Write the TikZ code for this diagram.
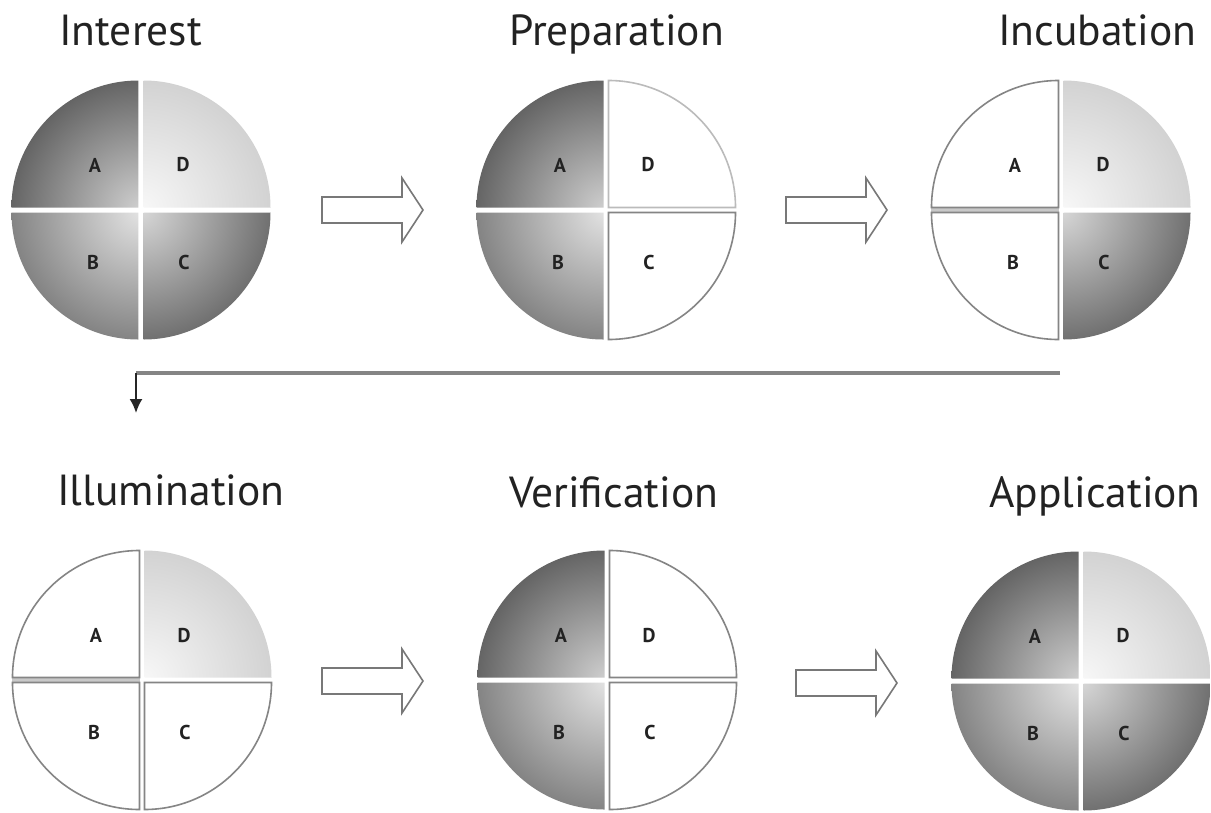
\documentclass[tikz,border=0pt]{standalone}
\usepackage{fontspec}
\setmainfont{PT Sans}
\usetikzlibrary{arrows.meta}
\definecolor{txt}{HTML}{222222}
\definecolor{edge}{HTML}{858585}
\definecolor{faint}{HTML}{BBBBBB}
\definecolor{band}{HTML}{C8C8C8}
\definecolor{aIn}{HTML}{D0D0D0}\definecolor{aOut}{HTML}{646464}
\definecolor{bIn}{HTML}{E4E4E4}\definecolor{bOut}{HTML}{838383}
\definecolor{cIn}{HTML}{D8D8D8}\definecolor{cOut}{HTML}{6F6F6F}
\definecolor{dIn}{HTML}{F8F8F8}\definecolor{dOut}{HTML}{D2D2D2}
\def\R{127}
% #1 start angle (screen, y down), #2 inner colour, #3 outer colour
\newcommand{\shq}[3]{%
  \begin{scope}
    \clip (#1+45:3.54) -- ++(#1:\R) arc[start angle=#1, end angle=#1+90, radius=\R] -- cycle;
    \shade[inner color=#2, outer color=#3] (0,0) circle[radius=131];
  \end{scope}}
% #1 start angle, #2 edge colour
\newcommand{\whq}[2]{%
  \draw[draw=#2, line width=1.6pt, fill=white] (#1+45:3.54) -- ++(#1:\R) arc[start angle=#1, end angle=#1+90, radius=\R] -- cycle;}
\newcommand{\labels}[1]{%
  \node[letter] (#1A) at (-46,-45) {A};
  \node[letter] (#1D) at (42,-45) {D};
  \node[letter] (#1B) at (-48,52) {B};
  \node[letter] (#1C) at (43,52) {C};}
\newcommand{\blockarrow}[3]{%
  \path[blockarrow] (#2,#3-13) -- (#2+80,#3-13) -- (#2+80,#3-32) -- (#2+101,#3) -- (#2+80,#3+32) -- (#2+80,#3+13) -- (#2,#3+13) -- cycle;
  \coordinate (#1) at (#2+50,#3);}
\tikzset{
  title/.style={anchor=base west, inner sep=0pt, text=txt, font=\fontsize{43.5}{52}\selectfont},
  letter/.style={inner sep=0pt, text=txt, font=\bfseries\fontsize{20}{24}\selectfont},
  blockarrow/.style={draw=edge!90!black, line width=1.6pt, fill=white, line join=miter},
  graylink/.style={draw=edge, line width=4.5pt},
  darklink/.style={draw=black!85, line width=2pt, -{Latex[length=14pt,width=13pt]}}
}
\begin{document}
\begin{tikzpicture}[x=1pt,y=-1pt]
\useasboundingbox[fill=white] (0,0) rectangle (1211,812);

% titles
\node[title] (tInterest) at (59,45) {Interest};
\node[title] (tPreparation) at (509,45) {Preparation};
\node[title] (tIncubation) at (998,45) {Incubation};
\node[title] (tIllumination) at (57,505) {Illumination};
\node[title] (tVerification) at (509,507) {Verification};
\node[title] (tApplication) at (989,507) {Application};

% Interest
\begin{scope}[shift={(141,210)}]
  \coordinate (interest) at (0,0);
  \shq{180}{aIn}{aOut}\shq{270}{dIn}{dOut}\shq{0}{cIn}{cOut}\shq{90}{bIn}{bOut}
  \labels{i}
\end{scope}

% Preparation
\begin{scope}[shift={(606,210)}]
  \coordinate (preparation) at (0,0);
  \shq{180}{aIn}{aOut}\shq{90}{bIn}{bOut}
  \whq{270}{faint}\whq{0}{edge}
  \labels{p}
\end{scope}

% Incubation
\begin{scope}[shift={(1061,210)}]
  \coordinate (incubation) at (0,0);
  \fill[band] (-\R-3,-2.5) rectangle (-2.5,2.5);
  \whq{180}{edge}\whq{90}{edge}
  \shq{270}{dIn}{dOut}\shq{0}{cIn}{cOut}
  \labels{n}
\end{scope}

% Illumination
\begin{scope}[shift={(142,680)}]
  \coordinate (illumination) at (0,0);
  \fill[band] (-\R-3,-2.5) rectangle (-2.5,2.5);
  \whq{180}{edge}\whq{90}{edge}\whq{0}{edge}
  \shq{270}{dIn}{dOut}
  \labels{l}
\end{scope}

% Verification
\begin{scope}[shift={(607,680)}]
  \coordinate (verification) at (0,0);
  \shq{180}{aIn}{aOut}\shq{90}{bIn}{bOut}
  \whq{270}{edge}\whq{0}{edge}
  \labels{v}
\end{scope}

% Application
\begin{scope}[shift={(1081,681)}]
  \coordinate (application) at (0,0);
  \shq{180}{aIn}{aOut}\shq{270}{dIn}{dOut}\shq{0}{cIn}{cOut}\shq{90}{bIn}{bOut}
  \labels{a}
\end{scope}

% block arrows
\blockarrow{arr1}{322}{210}
\blockarrow{arr2}{786}{210}
\blockarrow{arr3}{322}{681}
\blockarrow{arr4}{796}{683}

% connector from Incubation back to Illumination
\coordinate (incOut) at (1060,373);
\coordinate (bend) at (136,373);
\coordinate (illIn) at (136,413);
\draw[graylink] (incOut) -- (bend);
\draw[darklink] (bend) -- (illIn);
\end{tikzpicture}
\end{document}
